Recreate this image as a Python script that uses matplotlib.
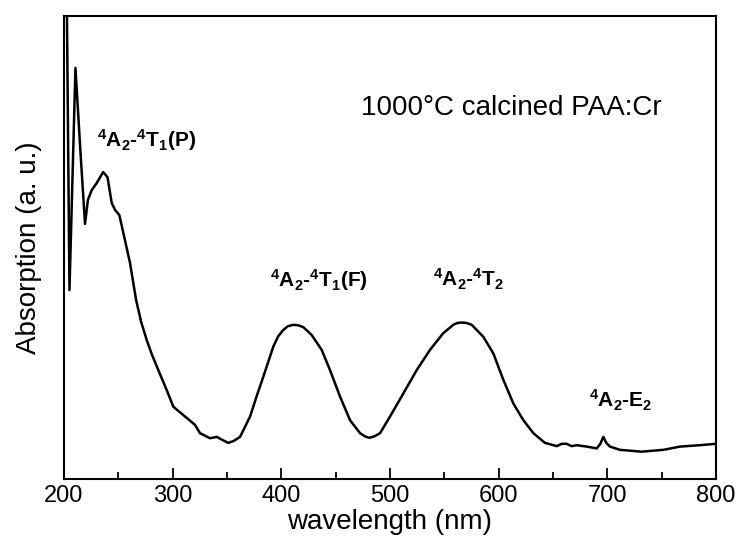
import numpy as np
import matplotlib
matplotlib.use("Agg")
import matplotlib.pyplot as plt
from matplotlib.ticker import MultipleLocator

plt.rcParams['font.family'] = ['Liberation Sans', 'DejaVu Sans']
plt.rcParams['mathtext.default'] = 'regular'

# absorption spectrum (arbitrary units, 0..1 = axis height)
wavelength = [200.5, 202.5, 205.0, 210.5, 215.0, 219.3, 222.0, 225.5, 230.0, 236.0,
              240.0, 243.9, 247.0, 250.9, 255.0, 260.7, 266.3, 271.0, 276.1, 281.0,
              286.8, 294.5, 300.6, 309.8, 320.5, 325.1, 334.4, 340.5, 346.0, 351.2,
              356.0, 362.0, 371.2, 377.0, 383.4, 392.6, 397.0, 401.8, 406.0, 411.0,
              415.5, 420.2, 427.9, 437.1, 444.8, 454.0, 463.2, 472.4, 477.0, 481.0,
              485.5, 490.8, 500.0, 512.3, 524.5, 536.8, 549.0, 558.2, 562.0, 565.9,
              570.5, 575.2, 585.9, 595.1, 604.3, 613.5, 622.7, 631.9, 642.6, 653.4,
              658.0, 662.6, 667.0, 671.8, 681.0, 690.2, 693.5, 696.3, 699.0, 702.4,
              711.6, 731.6, 751.5, 766.9, 785.0, 800.0]
absorption = [1.30, 1.05, 0.408, 0.888, 0.711, 0.551, 0.603, 0.624, 0.639, 0.663,
              0.652, 0.596, 0.581, 0.570, 0.527, 0.467, 0.387, 0.339, 0.300, 0.268,
              0.235, 0.192, 0.156, 0.138, 0.117, 0.099, 0.088, 0.091, 0.084, 0.078,
              0.082, 0.091, 0.135, 0.177, 0.221, 0.286, 0.308, 0.322, 0.330, 0.333,
              0.332, 0.328, 0.311, 0.279, 0.235, 0.178, 0.127, 0.099, 0.092, 0.089,
              0.092, 0.099, 0.135, 0.185, 0.235, 0.279, 0.315, 0.333, 0.337, 0.338,
              0.337, 0.333, 0.307, 0.271, 0.214, 0.163, 0.127, 0.099, 0.078, 0.071,
              0.076, 0.076, 0.071, 0.073, 0.070, 0.066, 0.076, 0.091, 0.078, 0.070,
              0.063, 0.059, 0.063, 0.070, 0.073, 0.076]

# band assignments (x in nm, y = baseline height)
band_labels = [r'$^4$A$_2$-$^4$T$_1$(P)', r'$^4$A$_2$-$^4$T$_1$(F)',
               r'$^4$A$_2$-$^4$T$_2$', r'$^4$A$_2$-E$_2$']
band_x = [275.5, 434.7, 572.7, 712.6]
band_y = [0.717, 0.415, 0.415, 0.155]

fig = plt.figure(figsize=(7.42, 5.41), dpi=100)
ax = fig.add_axes([0.0863, 0.1146, 0.8787, 0.8558])
ax.plot(wavelength, absorption, color='black', lw=1.8)

ax.set_xlim(200, 800)
ax.set_ylim(0, 1)
ax.xaxis.set_major_locator(MultipleLocator(100))
ax.xaxis.set_minor_locator(MultipleLocator(50))
ax.tick_params(axis='x', which='major', direction='in', length=8, width=1.3,
               labelsize=17, pad=4)
ax.tick_params(axis='x', which='minor', direction='in', length=5, width=1.3)
ax.set_yticks([])
for sp in ax.spines.values():
    sp.set_linewidth(1.5)

ax.set_xlabel('wavelength (nm)', fontsize=20, labelpad=2)
ax.set_ylabel('Absorption (a. u.)', fontsize=20, labelpad=16)

ax.text(611.8, 0.802, '1000°C calcined PAA:Cr', fontsize=20,
        ha='center', va='center')
for lab, x, y in zip(band_labels, band_x, band_y):
    ax.text(x, y, lab, fontsize=15, fontweight='bold', ha='center', va='baseline')

fig.savefig('out.png', dpi=100)
